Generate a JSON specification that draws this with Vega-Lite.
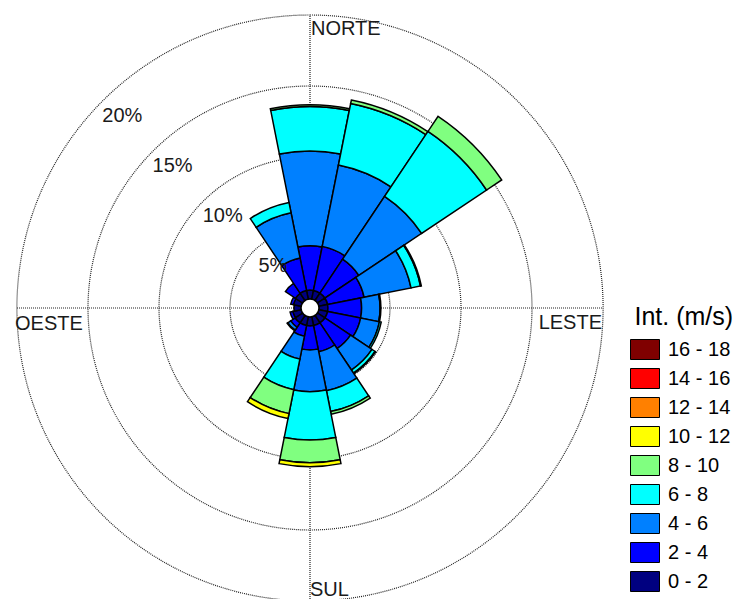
{
  "$schema": "https://vega.github.io/schema/vega-lite/v6.json",
  "width": 586,
  "height": 586,
  "autosize": {"type": "none"},
  "padding": {"left": 17, "top": 15, "right": 136, "bottom": -2},
  "background": "white",
  "config": {"view": {"stroke": null}, "font": "Liberation Sans"},
  "datasets": {
    "rose": [
      {"dir": 0, "d0": -11.25, "d1": 11.25, "spd": "0 - 2", "lo": 0, "f": 0.63},
      {"dir": 0, "d0": -11.25, "d1": 11.25, "spd": "2 - 4", "lo": 2, "f": 3.12},
      {"dir": 0, "d0": -11.25, "d1": 11.25, "spd": "4 - 6", "lo": 4, "f": 6.67},
      {"dir": 0, "d0": -11.25, "d1": 11.25, "spd": "6 - 8", "lo": 6, "f": 3.13},
      {"dir": 0, "d0": -11.25, "d1": 11.25, "spd": "8 - 10", "lo": 8, "f": 0.13},
      {"dir": 22.5, "d0": 11.25, "d1": 33.75, "spd": "0 - 2", "lo": 0, "f": 0.63},
      {"dir": 22.5, "d0": 11.25, "d1": 33.75, "spd": "2 - 4", "lo": 2, "f": 3.16},
      {"dir": 22.5, "d0": 11.25, "d1": 33.75, "spd": "4 - 6", "lo": 4, "f": 5.84},
      {"dir": 22.5, "d0": 11.25, "d1": 33.75, "spd": "6 - 8", "lo": 6, "f": 4.42},
      {"dir": 22.5, "d0": 11.25, "d1": 33.75, "spd": "8 - 10", "lo": 8, "f": 0.25},
      {"dir": 45, "d0": 33.75, "d1": 56.25, "spd": "0 - 2", "lo": 0, "f": 0.63},
      {"dir": 45, "d0": 33.75, "d1": 56.25, "spd": "2 - 4", "lo": 2, "f": 2.87},
      {"dir": 45, "d0": 33.75, "d1": 56.25, "spd": "4 - 6", "lo": 4, "f": 5.32},
      {"dir": 45, "d0": 33.75, "d1": 56.25, "spd": "6 - 8", "lo": 6, "f": 5.5},
      {"dir": 45, "d0": 33.75, "d1": 56.25, "spd": "8 - 10", "lo": 8, "f": 1.28},
      {"dir": 67.5, "d0": 56.25, "d1": 78.75, "spd": "0 - 2", "lo": 0, "f": 0.63},
      {"dir": 67.5, "d0": 56.25, "d1": 78.75, "spd": "2 - 4", "lo": 2, "f": 2.62},
      {"dir": 67.5, "d0": 56.25, "d1": 78.75, "spd": "4 - 6", "lo": 4, "f": 3.37},
      {"dir": 67.5, "d0": 56.25, "d1": 78.75, "spd": "6 - 8", "lo": 6, "f": 0.68},
      {"dir": 67.5, "d0": 56.25, "d1": 78.75, "spd": "8 - 10", "lo": 8, "f": 0.06},
      {"dir": 90, "d0": 78.75, "d1": 101.25, "spd": "0 - 2", "lo": 0, "f": 0.63},
      {"dir": 90, "d0": 78.75, "d1": 101.25, "spd": "2 - 4", "lo": 2, "f": 2.37},
      {"dir": 90, "d0": 78.75, "d1": 101.25, "spd": "4 - 6", "lo": 4, "f": 1.3},
      {"dir": 90, "d0": 78.75, "d1": 101.25, "spd": "6 - 8", "lo": 6, "f": 0.06},
      {"dir": 112.5, "d0": 101.25, "d1": 123.75, "spd": "0 - 2", "lo": 0, "f": 0.63},
      {"dir": 112.5, "d0": 101.25, "d1": 123.75, "spd": "2 - 4", "lo": 2, "f": 2.37},
      {"dir": 112.5, "d0": 101.25, "d1": 123.75, "spd": "4 - 6", "lo": 4, "f": 1.35},
      {"dir": 112.5, "d0": 101.25, "d1": 123.75, "spd": "6 - 8", "lo": 6, "f": 0.13},
      {"dir": 135, "d0": 123.75, "d1": 146.25, "spd": "0 - 2", "lo": 0, "f": 0.63},
      {"dir": 135, "d0": 123.75, "d1": 146.25, "spd": "2 - 4", "lo": 2, "f": 2.17},
      {"dir": 135, "d0": 123.75, "d1": 146.25, "spd": "4 - 6", "lo": 4, "f": 1.82},
      {"dir": 135, "d0": 123.75, "d1": 146.25, "spd": "6 - 8", "lo": 6, "f": 0.26},
      {"dir": 135, "d0": 123.75, "d1": 146.25, "spd": "8 - 10", "lo": 8, "f": 0.05},
      {"dir": 157.5, "d0": 146.25, "d1": 168.75, "spd": "0 - 2", "lo": 0, "f": 0.63},
      {"dir": 157.5, "d0": 146.25, "d1": 168.75, "spd": "2 - 4", "lo": 2, "f": 1.87},
      {"dir": 157.5, "d0": 146.25, "d1": 168.75, "spd": "4 - 6", "lo": 4, "f": 2.8},
      {"dir": 157.5, "d0": 146.25, "d1": 168.75, "spd": "6 - 8", "lo": 6, "f": 1.5},
      {"dir": 157.5, "d0": 146.25, "d1": 168.75, "spd": "8 - 10", "lo": 8, "f": 0.2},
      {"dir": 180, "d0": 168.75, "d1": 191.25, "spd": "0 - 2", "lo": 0, "f": 0.63},
      {"dir": 180, "d0": 168.75, "d1": 191.25, "spd": "2 - 4", "lo": 2, "f": 1.69},
      {"dir": 180, "d0": 168.75, "d1": 191.25, "spd": "4 - 6", "lo": 4, "f": 2.94},
      {"dir": 180, "d0": 168.75, "d1": 191.25, "spd": "6 - 8", "lo": 6, "f": 3.4},
      {"dir": 180, "d0": 168.75, "d1": 191.25, "spd": "8 - 10", "lo": 8, "f": 1.6},
      {"dir": 180, "d0": 168.75, "d1": 191.25, "spd": "10 - 12", "lo": 10, "f": 0.28},
      {"dir": 202.5, "d0": 191.25, "d1": 213.75, "spd": "0 - 2", "lo": 0, "f": 0.63},
      {"dir": 202.5, "d0": 191.25, "d1": 213.75, "spd": "2 - 4", "lo": 2, "f": 0.77},
      {"dir": 202.5, "d0": 191.25, "d1": 213.75, "spd": "4 - 6", "lo": 4, "f": 1.63},
      {"dir": 202.5, "d0": 191.25, "d1": 213.75, "spd": "6 - 8", "lo": 6, "f": 2.2},
      {"dir": 202.5, "d0": 191.25, "d1": 213.75, "spd": "8 - 10", "lo": 8, "f": 1.72},
      {"dir": 202.5, "d0": 191.25, "d1": 213.75, "spd": "10 - 12", "lo": 10, "f": 0.35},
      {"dir": 225, "d0": 213.75, "d1": 236.25, "spd": "0 - 2", "lo": 0, "f": 0.63},
      {"dir": 225, "d0": 213.75, "d1": 236.25, "spd": "2 - 4", "lo": 2, "f": 0.37},
      {"dir": 225, "d0": 213.75, "d1": 236.25, "spd": "4 - 6", "lo": 4, "f": 0.25},
      {"dir": 225, "d0": 213.75, "d1": 236.25, "spd": "6 - 8", "lo": 6, "f": 0.05},
      {"dir": 247.5, "d0": 236.25, "d1": 258.75, "spd": "0 - 2", "lo": 0, "f": 0.6},
      {"dir": 247.5, "d0": 236.25, "d1": 258.75, "spd": "2 - 4", "lo": 2, "f": 0.2},
      {"dir": 270, "d0": 258.75, "d1": 281.25, "spd": "0 - 2", "lo": 0, "f": 0.5},
      {"dir": 292.5, "d0": 281.25, "d1": 303.75, "spd": "0 - 2", "lo": 0, "f": 0.55},
      {"dir": 292.5, "d0": 281.25, "d1": 303.75, "spd": "2 - 4", "lo": 2, "f": 0.2},
      {"dir": 315, "d0": 303.75, "d1": 326.25, "spd": "0 - 2", "lo": 0, "f": 0.6},
      {"dir": 315, "d0": 303.75, "d1": 326.25, "spd": "2 - 4", "lo": 2, "f": 0.85},
      {"dir": 337.5, "d0": 326.25, "d1": 348.75, "spd": "0 - 2", "lo": 0, "f": 0.63},
      {"dir": 337.5, "d0": 326.25, "d1": 348.75, "spd": "2 - 4", "lo": 2, "f": 2.32},
      {"dir": 337.5, "d0": 326.25, "d1": 348.75, "spd": "4 - 6", "lo": 4, "f": 3.25},
      {"dir": 337.5, "d0": 326.25, "d1": 348.75, "spd": "6 - 8", "lo": 6, "f": 0.74}
    ],
    "grid": [
      {"g": 5, "lab": "5%"},
      {"g": 10, "lab": "10%"},
      {"g": 15, "lab": "15%"},
      {"g": 20, "lab": "20%"}
    ]
  },
  "layer": [
    {
      "data": {"name": "grid"},
      "mark": {"type": "arc", "filled": false, "color": "#222222", "strokeWidth": 1.2, "strokeDash": [1, 1], "radius2": 0},
      "encoding": {
        "theta": {"datum": 0, "type": "quantitative", "scale": {"domain": [0, 360], "range": [0, 6.283185307179586]}},
        "theta2": {"datum": 360},
        "radius": {"field": "g", "type": "quantitative", "stack": null, "scale": {"type": "linear", "domain": [0, 20], "range": [9, 293], "zero": false}}
      }
    },
    {
      "data": {"values": [{"line": "EW"}]},
      "mark": {"type": "rule", "color": "#222222", "strokeWidth": 1.2, "strokeDash": [1, 1]},
      "encoding": {
        "x": {"datum": -20, "type": "quantitative", "scale": {"domain": [-20, 20]}, "axis": null},
        "x2": {"datum": 20},
        "y": {"datum": 0, "type": "quantitative", "scale": {"domain": [-20, 20]}, "axis": null}
      }
    },
    {
      "data": {"values": [{"line": "NS"}]},
      "mark": {"type": "rule", "color": "#222222", "strokeWidth": 1.2, "strokeDash": [1, 1]},
      "encoding": {
        "x": {"datum": 0, "type": "quantitative", "axis": null},
        "y": {"datum": -20, "type": "quantitative", "axis": null},
        "y2": {"datum": 20}
      }
    },
    {
      "data": {"name": "rose"},
      "transform": [
        {"stack": "f", "groupby": ["dir"], "sort": [{"field": "lo", "order": "ascending"}], "as": ["r0", "r1"]}
      ],
      "mark": {"type": "arc", "stroke": "black", "strokeWidth": 1.5},
      "encoding": {
        "theta": {"field": "d0", "type": "quantitative"},
        "theta2": {"field": "d1"},
        "radius": {"field": "r1", "type": "quantitative", "stack": null},
        "radius2": {"field": "r0"},
        "color": {
          "field": "spd",
          "type": "nominal",
          "scale": {
            "domain": ["16 - 18", "14 - 16", "12 - 14", "10 - 12", "8 - 10", "6 - 8", "4 - 6", "2 - 4", "0 - 2"],
            "range": ["#800000", "#ff0000", "#ff8000", "#ffff00", "#80ff80", "#00ffff", "#0080ff", "#0000ff", "#000080"]
          },
          "legend": {
            "orient": "none",
            "legendX": 617.5,
            "legendY": 290,
            "title": "Int. (m/s)",
            "titleFontSize": 25,
            "titleFontWeight": "normal",
            "titleColor": "black",
            "titleFont": "Liberation Sans",
            "titlePadding": 9,
            "labelFontSize": 20,
            "labelFont": "Liberation Sans",
            "labelColor": "black",
            "labelOffset": 12.5,
            "symbolType": "M-1.45,-1L1.45,-1L1.45,1L-1.45,1Z",
            "symbolSize": 400,
            "symbolStrokeColor": "black",
            "symbolStrokeWidth": 1,
            "symbolOpacity": 1,
            "rowPadding": 4,
            "padding": 0
          }
        }
      }
    },
    {
      "data": {"values": [{"hole": 0}]},
      "mark": {"type": "arc", "fill": "white", "stroke": "black", "strokeWidth": 1.5, "radius2": 0},
      "encoding": {
        "theta": {"datum": 0, "type": "quantitative"},
        "theta2": {"datum": 360},
        "radius": {"field": "hole", "type": "quantitative", "stack": null}
      }
    },
    {
      "data": {"name": "grid"},
      "mark": {"type": "text", "fontSize": 20, "align": "center", "baseline": "middle", "dx": 19.5, "dy": 15, "color": "#1a1a1a"},
      "encoding": {
        "theta": {"datum": 315, "type": "quantitative"},
        "radius": {"field": "g", "type": "quantitative", "stack": null},
        "text": {"field": "lab"}
      }
    },
    {
      "data": {"values": [{"lab": "NORTE", "deg": 0, "pct": 20}]},
      "mark": {"type": "text", "fontSize": 20, "align": "left", "baseline": "alphabetic", "dx": 1, "dy": 20, "color": "#1a1a1a"},
      "encoding": {
        "theta": {"field": "deg", "type": "quantitative"},
        "radius": {"field": "pct", "type": "quantitative", "stack": null},
        "text": {"field": "lab"}
      }
    },
    {
      "data": {"values": [{"lab": "LESTE", "deg": 90, "pct": 20}]},
      "mark": {"type": "text", "fontSize": 20, "align": "right", "baseline": "alphabetic", "dx": -1, "dy": 21, "color": "#1a1a1a"},
      "encoding": {
        "theta": {"field": "deg", "type": "quantitative"},
        "radius": {"field": "pct", "type": "quantitative", "stack": null},
        "text": {"field": "lab"}
      }
    },
    {
      "data": {"values": [{"lab": "OESTE", "deg": 270, "pct": 20}]},
      "mark": {"type": "text", "fontSize": 20, "align": "left", "baseline": "alphabetic", "dx": -2, "dy": 22, "color": "#1a1a1a"},
      "encoding": {
        "theta": {"field": "deg", "type": "quantitative"},
        "radius": {"field": "pct", "type": "quantitative", "stack": null},
        "text": {"field": "lab"}
      }
    },
    {
      "data": {"values": [{"lab": "SUL", "deg": 180, "pct": 20}]},
      "mark": {"type": "text", "fontSize": 20, "align": "left", "baseline": "alphabetic", "dx": 0, "dy": -5, "color": "#1a1a1a"},
      "encoding": {
        "theta": {"field": "deg", "type": "quantitative"},
        "radius": {"field": "pct", "type": "quantitative", "stack": null},
        "text": {"field": "lab"}
      }
    }
  ]
}
